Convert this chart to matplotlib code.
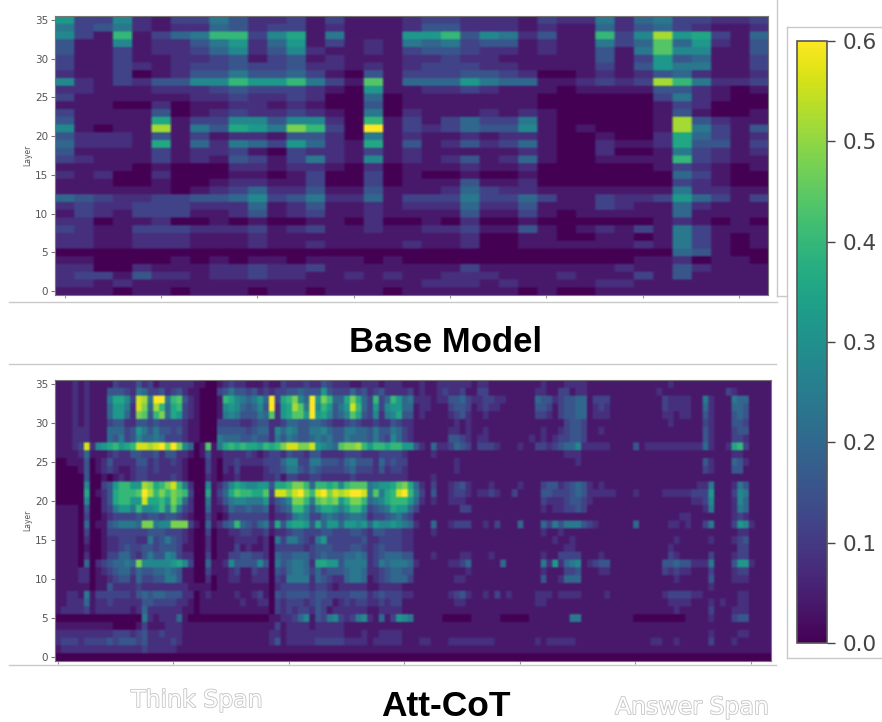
import numpy as np
import matplotlib
matplotlib.use('Agg')
import matplotlib.pyplot as plt
import matplotlib.patheffects as pe
from matplotlib.lines import Line2D

W, H = 882, 722

# attention per cell, one hex digit per cell (digit * 0.04), rows run from layer 35 down to layer 0
base_rows = [
    "8337213364 2231311123 3222132262 5633223",
    "6346212254 2331211124 4222121152 4532112",
    "731a1356aa 3791611188 a4762411a3 7d89315",
    "4117122468 2581312165 6344121163 5b58214",
    "4113122357 2472112134 4322121141 6b77114",
    "3113112234 1341211122 3221111141 3845113",
    "3113212334 3342212123 3322111131 4866113",
    "2113012446 4453104133 3443200121 2452112",
    "721324477a 88a631b155 5865511232 3da6223",
    "2211122234 3332108112 2321110111 1442101",
    "3111111223 2232005011 1111100000 0362100",
    "1110020112 2121004011 1111100000 0132000",
    "3111140123 2232106021 1121210000 0141001",
    "4111191337 747720a131 3533610000 01d4211",
    "71011d1649 86ca30f132 3544710100 01d6314",
    "4222141312 2144206121 1212210010 0295312",
    "5222191526 5385219141 2423510021 1294413",
    "4111131223 1032213121 1111210020 0163212",
    "3211131214 3136217121 2412510011 11a3211",
    "1111010002 2122102011 1211200000 0132101",
    "2120020001 1013003010 0100100000 0053100",
    "1110010012 2113003011 1411200000 0032100",
    "1111110123 5224114111 2532211111 1162211",
    "5432233445 7346225133 3633531132 2385313",
    "2322333222 5124112122 2522411132 1152111",
    "1321333112 4123112111 1411310111 1151111",
    "2201120010 1001102001 0200100000 0121010",
    "3211333222 3123112112 2311410121 3163111",
    "2211222111 2111111111 1200110011 0163101",
    "2211222111 2112111121 1200111111 2163101",
    "0000000000 0000000000 0000000000 0054100",
    "1100001010 1101110100 0000000000 1120110",
    "2200211122 3223111111 1311111112 1142111",
    "2331422122 3221121211 2221112111 3141111",
    "2212111111 1111111112 2212111122 1111111",
    "1110110111 0110111011 1111010011 1111111",
]

att_rows = [
    "1112121111 3222423122 2222110012 3221112113 2223224322 2112221222 1112112222 2212211111 1111211122 2211111111 1111112111 1111111111 1111",
    "1112121114 4432653342 3421100034 6443423233 4454448433 3534234222 2312112322 3113311111 1112211331 2211111111 1111211111 1111113211 1111",
    "1112121116 9973ed6ff6 ab4210001a 9765685f39 ac75f8ca55 9c953a35a8 5622212244 5322332211 1115442344 5513331111 1111132222 1162111655 1111",
    "1112121115 8862ec5da5 9a32100017 8754574f28 9db6f7a846 8ea5383788 5512211134 4312322111 1114431344 5512321111 1111132222 1152111554 1111",
    "1112121115 8852cb4ac5 9832100016 7644465b28 9bb8f89745 7b94372679 4412111123 4211211111 1113321344 5512221111 1111122122 1142111454 1111",
    "1112121113 4422443433 3321100033 3322344223 5544554322 3432232243 2211111112 1211111111 1111111134 4311111111 1111112111 1132111443 1111",
    "1112221115 5534864644 3421100044 4443455275 7644667544 6655464465 3211111122 1211211111 1111211234 4311211111 1111111111 1142111344 1111",
    "1112221115 4634755653 3321100065 5544544264 6544565644 6555464375 3211111144 3212211111 1121212334 4311111111 1111111111 1142111332 1111",
    "11123e2789 a89aeedefc fc7501b169 a9a998a9ac eecce8765b ccda8aa9aa 8842152235 4313332111 2113323455 7222221111 4122222222 22521129a3 1111",
    "1111251112 3224433424 4221014112 2223212332 4332442222 3332223333 2111121111 1111111111 1111111122 2111111111 1111111111 1111111221 1111",
    "0011140124 2222442322 3210003102 2322223335 7733664443 5644425343 3111111112 1111111111 1111111111 2111111111 1111111111 1142111542 1111",
    "0000140123 2112332322 2210003102 1311112334 6643543333 4533324233 2111111112 1111111111 1111111111 1111111111 1111111111 1132111441 1111",
    "0000040010 1212332222 3210002101 1211112231 3322332222 2322222222 2111121111 1111111111 1111111111 1111111111 1111111111 1111111111 1111",
    "0000070034 8aa88dc9ac ea62007124 7987788499 acca5aa9a7 abbb678 89b c952131123 4211121111 2111344234 5421211111 1111111111 1226111264 1111",
    "0000090124 9aaabfdaca cba3009135 9baa99b3ee cefcaefced effe6b69ae fa63141123 3212232113 1111443334 5422222111 2111122222 3338111376 1111",
    "0000070024 9aa88e99a8 ca52006124 6776668245 7cca6bcbc8 acca5679aa a852121122 2111111111 1111322234 4321111111 1111111111 2237111275 1111",
    "1111040023 6886a778a6 b632005112 5445445134 5aa7479986 8aa7345698 8531111111 3311111111 1111212233 4311111111 1111111111 1126111265 1111",
    "1111030012 3333434434 4321003101 3333333122 3676335654 5665233456 4311111111 1111111111 1111111111 1111111111 1111111122 1111111232 1111",
    "1111050114 56665cc677 ccc3105124 5a54356294 8998495885 8878587787 6521151123 3311213111 5111536466 6432111111 5111112212 1136111387 2111",
    "1111030013 3333334443 3321003011 2233223122 3443334433 3443244333 2211121111 1111111111 1111211211 1111111111 1111111111 1111111122 1111",
    "1111020012 2333226346 4321002011 1222212063 6643268333 3334223333 2211111111 1111111111 1111112112 1111111111 1111111211 1112111234 1111",
    "1111010012 2343344344 4311002011 1312112033 3332344433 3443234333 2211111111 1111111111 1111111122 1111111111 1111112111 1111111133 1111",
    "1111020013 3553246447 6322003011 3344332054 4555345444 5565234555 4411121111 2211121111 1111211333 3111211111 1111113211 1113111233 1111",
    "1111050234 5565c77777 8973005112 7444474064 5665299884 6666236566 6521111122 3511111511 1111628256 7123441111 1111144544 2226111488 2111",
    "1111220123 4553544556 5411003111 2311322043 5665353444 5665223455 4411111111 1211111111 1111211133 4111221111 1111132322 1113111233 1111",
    "1111220112 3442533446 6411002011 2211222032 6666254322 5665123455 5311111112 2111111111 1111411255 5111111111 1111111211 1114111222 1111",
    "1111110114 2222322222 2221111011 1111111023 3333233212 2222112222 1111111111 1111111111 1111111111 1111111111 1111111111 1112111111 1111",
    "1122161333 3332454554 4422012111 1211231043 4444344333 3444234333 2211111123 4211213121 1112221222 2111121111 1111123333 2211111122 1111",
    "1122251223 2222244333 3221011111 1121122032 3332343312 3233223233 1111111112 2111111111 1112211111 1111111111 1111112222 1112121122 1111",
    "1222231222 2221252222 2211011111 1111111032 3233243122 2222112222 1111111111 1111111111 1111111111 1111111111 1111111211 1113111222 1111",
    "0000000000 0000062122 2510000000 0000000112 2357143673 2367215138 7611111000 0011111000 0011111116 6111111111 0000000001 1112111344 1111",
    "1111111111 0000131112 2211111111 1111111131 2222122222 1111111111 1111111111 1111111111 1111111111 1111111111 1111111111 1111111111 1111",
    "2222222222 3332342232 2211111111 1111111221 2222222222 1112112222 1111111111 1111111111 1111111111 1111111111 1111111111 1112111122 1111",
    "2333233334 3444342222 3211111111 1111111241 2222233333 2222122222 1112211122 2222221111 1112122222 1111111111 1112211211 1113111211 1111",
    "1222222222 2222232222 2111111111 1111111111 1111111111 1111111111 1111111111 1111111111 1111111111 1111111111 1111111111 1111111111 1111",
    "0000000000 0000000000 0000000000 0000000000 0000000000 0000000000 0000000000 0000000000 0000000000 0000000000 0000000000 0000000000 0000",
]

colorbar_ticks = [0.0, 0.1, 0.2, 0.3, 0.4, 0.5, 0.6]
layer_ticks = [0, 5, 10, 15, 20, 25, 30, 35]
top_xticks = [0, 5, 10, 15, 20, 25, 30, 35]
bottom_xticks = [0, 20, 40, 60, 80, 100, 120]


def decode(rows):
    return np.array([[int(c, 16) * 0.04 for c in ''.join(r.split())] for r in rows[::-1]])


def axes_px(fig, x0, y0, x1, y1):
    # pixel box measured from the top left corner of the picture
    return fig.add_axes([x0 / W, 1 - y1 / H, (x1 - x0) / W, (y1 - y0) / H])


def line_px(fig, x0, y0, x1, y1, color='#c9c9c9'):
    fig.add_artist(Line2D([x0 / W, x1 / W], [1 - y0 / H, 1 - y1 / H], color=color, lw=1.0))


def draw_heat(ax, data, xticks, rep_x, rep_y):
    # repeat the cells so that bilinear only softens their edges, the reference is a bit blurred
    big = np.repeat(np.repeat(data, rep_y, axis=0), rep_x, axis=1)
    rows, cols = data.shape
    im = ax.imshow(big, origin='lower', aspect='auto', cmap='viridis', vmin=0, vmax=0.6,
                   interpolation='bilinear', extent=(-0.5, cols - 0.5, -0.5, rows - 0.5))
    ax.set_xticks(xticks)
    ax.set_xticklabels([])
    ax.set_yticks(layer_ticks)
    ax.tick_params(axis='y', labelsize=7.5, labelcolor='#555555', color='#777777', length=3, width=0.8, pad=2)
    ax.tick_params(axis='x', color='#999999', length=2.5, width=0.8)
    ax.set_ylabel('Layer', fontsize=5.5, color='#555555', labelpad=2)
    for s in ax.spines.values():
        s.set_color('#777777')
        s.set_linewidth(0.8)
    return im


fig = plt.figure(figsize=(W / 100, H / 100), dpi=100, facecolor='white')

ax1 = axes_px(fig, 55, 16, 768, 295)
im = draw_heat(ax1, decode(base_rows), top_xticks, 6, 3)

ax2 = axes_px(fig, 55, 380, 771, 661)
draw_heat(ax2, decode(att_rows), bottom_xticks, 2, 3)

cax = axes_px(fig, 797, 41, 827, 643)
cb = fig.colorbar(im, cax=cax)
cb.set_ticks(colorbar_ticks)
cb.ax.tick_params(labelsize=15.5, labelcolor='#444444', color='#444444', length=5.5, width=1.0, pad=6)
cb.outline.set_edgecolor('#555555')
cb.outline.set_linewidth(1.2)

# thin frames left over around the panels
line_px(fig, 9, 301.5, 777, 301.5)
line_px(fig, 777, 0, 777, 296)
line_px(fig, 777, 296, 787, 296)
line_px(fig, 9, 364, 776, 364)
line_px(fig, 9, 665, 776, 665)
line_px(fig, 787, 27, 882, 27)
line_px(fig, 787, 27, 787, 658)
line_px(fig, 787, 658, 882, 658)

title_font = ['Liberation Sans', 'DejaVu Sans']
fig.text(445.5 / W, 1 - 343 / H, 'Base Model', fontsize=25, fontweight='bold', family=title_font,
         color='black', ha='center', va='center')
fig.text(446 / W, 1 - 707 / H, 'Att-CoT', fontsize=25.5, fontweight='bold', family=title_font,
         color='black', ha='center', va='center')

outline = [pe.withStroke(linewidth=1.2, foreground='#c4c4c4')]
fig.text(197 / W, 1 - 700 / H, 'Think Span', fontsize=17, color='white', ha='center', va='center',
         path_effects=outline)
fig.text(692 / W, 1 - 707 / H, 'Answer Span', fontsize=17, color='white', ha='center', va='center',
         path_effects=outline)

fig.savefig('out.png', dpi=100)
